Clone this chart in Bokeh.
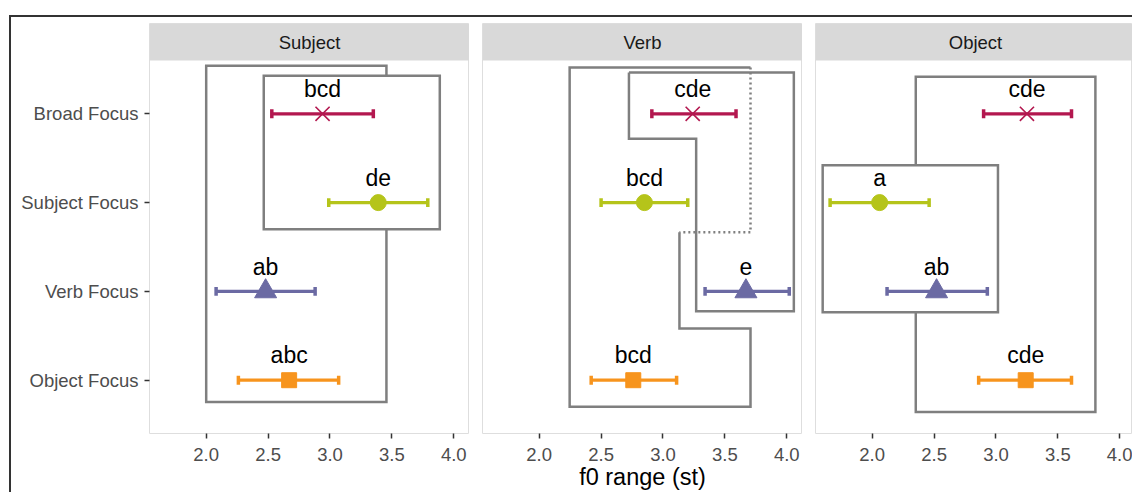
from bokeh.plotting import figure
from bokeh.layouts import row
from bokeh.models import Range1d, FixedTicker, PrintfTickFormatter
from bokeh.core.properties import value
from bokeh.embed import file_html
from bokeh.resources import INLINE

FONT = "Liberation Sans"

# ---------------- data ----------------
FACETS = ["Subject", "Verb", "Object"]
FOCUS = ["Broad Focus", "Subject Focus", "Verb Focus", "Object Focus"]
FOCUS_Y = [4, 3, 2, 1]
COLORS = ["#B3174F", "#B5C41A", "#6B6AA3", "#F7941D"]
MARKERS = ["x", "circle", "triangle", "square"]
X_TICKS = [2.0, 2.5, 3.0, 3.5, 4.0]

subject_mean = [2.94, 3.39, 2.48, 2.67]
subject_lo = [2.53, 2.99, 2.08, 2.26]
subject_hi = [3.35, 3.79, 2.88, 3.07]
subject_letters = ["bcd", "de", "ab", "abc"]

verb_mean = [3.24, 2.85, 3.67, 2.76]
verb_lo = [2.91, 2.50, 3.34, 2.42]
verb_hi = [3.59, 3.20, 4.02, 3.11]
verb_letters = ["cde", "bcd", "e", "bcd"]

object_mean = [3.25, 2.06, 2.52, 3.24]
object_lo = [2.90, 1.66, 2.12, 2.86]
object_hi = [3.61, 2.46, 2.93, 3.61]
object_letters = ["cde", "a", "ab", "cde"]

# grouping boxes (data units)
subject_box_left = [2.00, 2.465]
subject_box_right = [3.456, 3.887]
subject_box_bottom = [0.756, 2.700]
subject_box_top = [4.541, 4.429]

verb_outer_x = [3.133, 3.133, 3.707, 3.707, 2.246, 2.246, 3.707]
verb_outer_y = [2.666, 1.582, 1.582, 0.700, 0.700, 4.522, 4.522]
verb_dotted_x = [3.707, 3.707, 3.133]
verb_dotted_y = [4.522, 2.666, 2.666]
verb_inner_x = [2.725, 4.057, 4.057, 3.268, 3.268, 2.725, 2.725]
verb_inner_y = [4.466, 4.466, 1.776, 1.776, 3.720, 3.720, 4.466]

object_box_left = [2.352, 1.600]
object_box_right = [3.803, 3.016]
object_box_bottom = [0.643, 1.765]
object_box_top = [4.418, 3.420]

# ---------------- layout constants ----------------
X_START, X_END = 1.542, 4.127
Y_START, Y_PANEL_TOP = 0.4, 4.6
FRAME_W, PANEL_H, STRIP_H = 320, 373, 37
Y_TOP = Y_PANEL_TOP + STRIP_H * (Y_PANEL_TOP - Y_START) / PANEL_H
BOX_COLOR = "#7F7F7F"


def make_panel(name, border_left, fw, show_y, xlabel):
    x_end = X_START + (X_END - X_START) * fw / FRAME_W
    p = figure(frame_width=fw, frame_height=PANEL_H + STRIP_H,
               x_range=Range1d(X_START, x_end), y_range=Range1d(Y_START, Y_TOP),
               output_backend="svg", toolbar_location=None,
               min_border_left=border_left, min_border_right=0,
               min_border_top=6, min_border_bottom=0,
               y_axis_location="left" if show_y else None,
               background_fill_color="white", border_fill_color="white")
    p.outline_line_color = "#DEDEDE"
    p.outline_line_width = 1
    p.xgrid.visible = False
    p.ygrid.visible = False

    # strip
    p.quad(left=[X_START], right=[x_end], bottom=[Y_PANEL_TOP], top=[Y_TOP],
           fill_color="#D9D9D9", line_color=None)
    p.text(x=[(X_START + X_END) / 2], y=[(Y_PANEL_TOP + Y_TOP) / 2], text=[name],
           text_align="center", text_baseline="middle",
           text_font=value(FONT), text_font_size="18.5px", text_color="#1A1A1A")

    # x axis
    ax = p.xaxis[0]
    ax.ticker = FixedTicker(ticks=X_TICKS)
    ax.formatter = PrintfTickFormatter(format="%.1f")
    ax.axis_line_color = None
    ax.major_tick_line_color = "#333333"
    ax.major_tick_line_width = 1.5
    ax.major_tick_out = 5
    ax.major_tick_in = 0
    ax.minor_tick_line_color = None
    ax.major_label_text_color = "#4D4D4D"
    ax.major_label_text_font = FONT
    ax.major_label_text_font_size = "18.5px"
    ax.major_label_standoff = 9
    if xlabel:
        ax.axis_label = xlabel
        ax.axis_label_text_font = FONT
        ax.axis_label_text_font_size = "23.5px"
        ax.axis_label_text_font_style = "normal"
        ax.axis_label_text_color = "#000000"
        ax.axis_label_standoff = 0

    if show_y:
        ay = p.yaxis[0]
        ay.ticker = FixedTicker(ticks=FOCUS_Y)
        ay.major_label_overrides = {yv: lab for yv, lab in zip(FOCUS_Y, FOCUS)}
        ay.axis_line_color = None
        ay.major_tick_line_color = "#333333"
        ay.major_tick_line_width = 1.5
        ay.major_tick_out = 5
        ay.major_tick_in = 0
        ay.minor_tick_line_color = None
        ay.major_label_text_color = "#4D4D4D"
        ay.major_label_text_font = FONT
        ay.major_label_text_font_size = "18.5px"
        ay.major_label_standoff = 6
    return p


def add_points(p, mean, lo, hi, letters):
    cap = 0.05
    for i in range(len(FOCUS)):
        y = FOCUS_Y[i]
        c = COLORS[i]
        p.segment(x0=[lo[i]], y0=[y], x1=[hi[i]], y1=[y], line_color=c, line_width=3.2)
        p.segment(x0=[lo[i], hi[i]], y0=[y - cap, y - cap], x1=[lo[i], hi[i]],
                  y1=[y + cap, y + cap], line_color=c, line_width=3.5)
        m = MARKERS[i]
        if m == "x":
            p.scatter(x=[mean[i]], y=[y], marker="x", size=20, line_color=c, line_width=1.6)
        elif m == "circle":
            p.scatter(x=[mean[i]], y=[y], marker="circle", size=16, fill_color=c, line_color=c)
        elif m == "triangle":
            p.scatter(x=[mean[i]], y=[y], marker="triangle", size=22, fill_color=c, line_color=c)
        else:
            p.scatter(x=[mean[i]], y=[y], marker="square", size=15, fill_color=c, line_color=c)
    p.text(x=mean, y=[v + 0.28 for v in FOCUS_Y], text=letters,
           text_align="center", text_baseline="alphabetic",
           text_font=value(FONT), text_font_size="23px", text_color="#000000")


# Subject panel
p1 = make_panel(FACETS[0], 138, FRAME_W, True, None)
p1.quad(left=subject_box_left, right=subject_box_right, bottom=subject_box_bottom,
        top=subject_box_top, fill_color=["rgba(0,0,0,0)", "white"],
        line_color=BOX_COLOR, line_width=2.5, line_join="miter")
add_points(p1, subject_mean, subject_lo, subject_hi, subject_letters)

# Verb panel
p2 = make_panel(FACETS[1], 13, FRAME_W, False, "f0 range (st)")
p2.line(x=verb_outer_x, y=verb_outer_y, line_color=BOX_COLOR, line_width=2.5, line_join="miter")
p2.line(x=verb_dotted_x, y=verb_dotted_y, line_color=BOX_COLOR, line_width=2.5,
        line_dash="2 3")
p2.line(x=verb_inner_x, y=verb_inner_y, line_color=BOX_COLOR, line_width=2.5, line_join="miter")
add_points(p2, verb_mean, verb_lo, verb_hi, verb_letters)

# Object panel
p3 = make_panel(FACETS[2], 13, 317, False, None)
p3.quad(left=object_box_left, right=object_box_right, bottom=object_box_bottom,
        top=object_box_top, fill_color=["rgba(0,0,0,0)", "white"],
        line_color=BOX_COLOR, line_width=2.5, line_join="miter")
add_points(p3, object_mean, object_lo, object_hi, object_letters)

layout = row(p1, p2, p3, spacing=0, margin=(15, 0, 0, 9),
             styles={"border-top": "2px solid #333333", "border-left": "2px solid #333333"})

open("out.html", "w").write(file_html(layout, INLINE))
